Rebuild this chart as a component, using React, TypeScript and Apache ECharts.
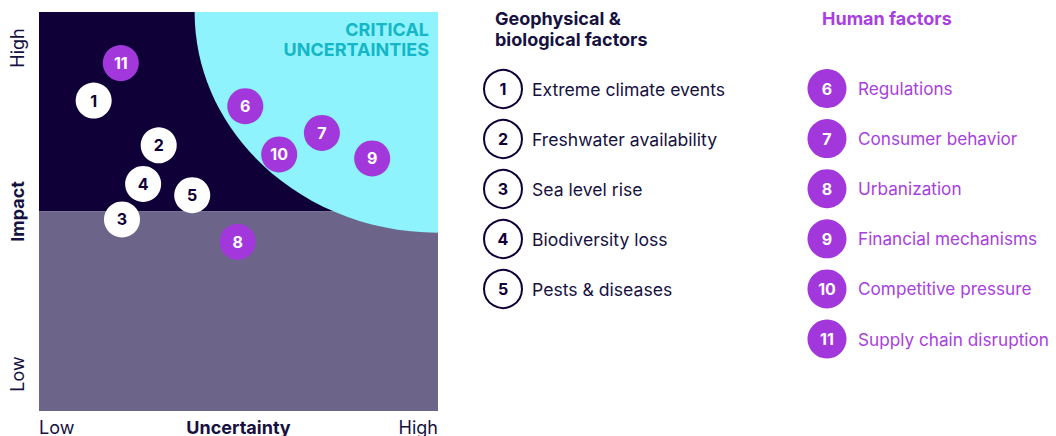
import React, { useEffect, useRef } from "react";
import * as echarts from "echarts";

// ---- data ----
const geoIds = [1, 2, 3, 4, 5];
const geoNames = [
  "Extreme climate events",
  "Freshwater availability",
  "Sea level rise",
  "Biodiversity loss",
  "Pests & diseases",
];
const geoUncertainty = [1.37, 3.0, 2.08, 2.61, 3.84];
const geoImpact = [7.78, 6.66, 4.8, 5.69, 5.41];

const humanIds = [6, 7, 8, 9, 10, 11];
const humanNames = [
  "Regulations",
  "Consumer behavior",
  "Urbanization",
  "Financial mechanisms",
  "Competitive pressure",
  "Supply chain disruption",
];
const humanUncertainty = [5.17, 7.09, 4.98, 8.35, 6.02, 2.05];
const humanImpact = [7.64, 6.97, 4.24, 6.33, 6.43, 8.72];

const axisMin = 0;
const axisMax = 10;
const impactSplit = 5;
const criticalCenter = [10, 10];
const criticalRadii = [6.1, 5.53];

const geoTitle = "Geophysical &\nbiological factors";
const humanTitle = "Human factors";
const criticalLabel = "CRITICAL\nUNCERTAINTIES";

// ---- styles ----
const FONT = "Inter, 'Noto Sans', sans-serif";
const NAVY = "#0f0037";
const GREY = "#6d6589";
const CYAN = "#8ef3fd";
const TEAL = "#14b6c7";
const PURPLE = "#a238dc";
const PURPLE_TEXT = "#a83fe0";
const TEXT = "#16113f";

export default function App() {
  const ref = useRef<HTMLDivElement>(null);

  useEffect(() => {
    if (!ref.current) return;
    const chart = echarts.init(ref.current, undefined, { renderer: "svg" });

    const legendGraphics: any[] = [];
    legendGraphics.push({
      type: "text",
      x: 495,
      y: 8,
      style: { text: geoTitle, font: `bold 18px ${FONT}`, fill: TEXT, lineHeight: 21, verticalAlign: "top" },
    });
    legendGraphics.push({
      type: "text",
      x: 822,
      y: 8,
      style: { text: humanTitle, font: `bold 18px ${FONT}`, fill: PURPLE_TEXT, lineHeight: 21, verticalAlign: "top" },
    });
    geoIds.forEach((id, i) => {
      const cy = 89 + i * 50;
      legendGraphics.push({
        type: "circle",
        shape: { cx: 503, cy, r: 19 },
        style: { fill: "#fff", stroke: NAVY, lineWidth: 2 },
      });
      legendGraphics.push({
        type: "text",
        x: 503,
        y: cy,
        style: { text: String(id), font: `bold 16px ${FONT}`, fill: NAVY, align: "center", verticalAlign: "middle" },
      });
      legendGraphics.push({
        type: "text",
        x: 532,
        y: cy,
        style: { text: geoNames[i], font: `17.6px ${FONT}`, fill: TEXT, align: "left", verticalAlign: "middle" },
      });
    });
    humanIds.forEach((id, i) => {
      const cy = 88.5 + i * 50.1;
      legendGraphics.push({
        type: "circle",
        shape: { cx: 827, cy, r: 19.5 },
        style: { fill: PURPLE },
      });
      legendGraphics.push({
        type: "text",
        x: 827,
        y: cy,
        style: { text: String(id), font: `bold 16px ${FONT}`, fill: "#fff", align: "center", verticalAlign: "middle" },
      });
      legendGraphics.push({
        type: "text",
        x: 858,
        y: cy,
        style: { text: humanNames[i], font: `17.2px ${FONT}`, fill: PURPLE_TEXT, align: "left", verticalAlign: "middle" },
      });
    });

    const option: any = {
      animation: false,
      grid: { left: 39, top: 12, width: 399, height: 399, outerBoundsMode: "none", containLabel: false },
      xAxis: {
        type: "value",
        min: axisMin,
        max: axisMax,
        interval: axisMax - axisMin,
        splitLine: { show: false },
        axisLine: { show: false },
        axisTick: { show: false },
        axisLabel: {
          margin: 7,
          fontSize: 18,
          fontFamily: FONT,
          color: TEXT,
          alignMinLabel: "left",
          alignMaxLabel: "right",
          formatter: (v: number) => (v === axisMin ? "Low" : "High"),
        },
        name: "Uncertainty",
        nameLocation: "middle",
        nameGap: 7,
        nameMoveOverlap: false,
        nameTextStyle: { fontSize: 18, fontWeight: "bold", fontFamily: FONT, color: TEXT, verticalAlign: "top" },
      },
      yAxis: {
        type: "value",
        min: axisMin,
        max: axisMax,
        interval: axisMax - axisMin,
        splitLine: { show: false },
        axisLine: { show: false },
        axisTick: { show: false },
        axisLabel: { show: false },
        name: "Impact",
        nameLocation: "middle",
        nameGap: 13,
        nameMoveOverlap: false,
        nameTextStyle: { fontSize: 18, fontWeight: "bold", fontFamily: FONT, color: TEXT },
      },
      graphic: [
        {
          type: "text",
          x: 17,
          y: 48,
          rotation: Math.PI / 2,
          style: { text: "High", font: `18px ${FONT}`, fill: TEXT, align: "center", verticalAlign: "middle" },
        },
        {
          type: "text",
          x: 17,
          y: 374,
          rotation: Math.PI / 2,
          style: { text: "Low", font: `18px ${FONT}`, fill: TEXT, align: "center", verticalAlign: "middle" },
        },
        {
          type: "text",
          x: 429,
          y: 19,
          z: 10,
          style: { text: criticalLabel, font: `bold 18px ${FONT}`, fill: TEAL, align: "right", verticalAlign: "top", lineHeight: 20 },
        },
        ...legendGraphics,
      ],
      series: [
        {
          type: "custom",
          silent: true,
          z: 0,
          data: [[0]],
          renderItem: (params: any, api: any) => {
            const tl = api.coord([axisMin, axisMax]);
            const mid = api.coord([axisMax, impactSplit]);
            const bl = api.coord([axisMin, impactSplit]);
            const br = api.coord([axisMax, axisMin]);
            const c = api.coord(criticalCenter);
            const e = api.coord([criticalCenter[0] - criticalRadii[0], criticalCenter[1] - criticalRadii[1]]);
            const cs = params.coordSys;
            return {
              type: "group",
              children: [
                {
                  type: "rect",
                  shape: { x: tl[0], y: tl[1], width: mid[0] - tl[0], height: mid[1] - tl[1] },
                  style: { fill: NAVY },
                },
                {
                  type: "rect",
                  shape: { x: bl[0], y: bl[1], width: br[0] - bl[0], height: br[1] - bl[1] },
                  style: { fill: GREY },
                },
                {
                  type: "ellipse",
                  shape: { cx: c[0], cy: c[1], rx: c[0] - e[0], ry: e[1] - c[1] },
                  style: { fill: CYAN },
                  clipPath: { type: "rect", shape: { x: cs.x, y: cs.y, width: cs.width, height: cs.height } },
                },
              ],
            };
          },
        },
        {
          type: "scatter",
          z: 5,
          symbolSize: 36,
          itemStyle: { color: "#ffffff", opacity: 1 },
          data: geoIds.map((id, i) => [geoUncertainty[i], geoImpact[i], id]),
          label: {
            show: true,
            position: "inside",
            formatter: (p: any) => String(p.value[2]),
            color: NAVY,
            fontWeight: "bold",
            fontSize: 16,
            fontFamily: FONT,
          },
        },
        {
          type: "scatter",
          z: 5,
          symbolSize: 36,
          itemStyle: { color: PURPLE, opacity: 1 },
          data: humanIds.map((id, i) => [humanUncertainty[i], humanImpact[i], id]),
          label: {
            show: true,
            position: "inside",
            formatter: (p: any) => String(p.value[2]),
            color: "#ffffff",
            fontWeight: "bold",
            fontSize: 16,
            fontFamily: FONT,
          },
        },
      ],
    };

    chart.setOption(option);
    return () => chart.dispose();
  }, []);

  return (
    <div
      ref={ref}
      style={{ position: "absolute", left: 0, top: 0, width: 1056, height: 436, background: "#fff" }}
    />
  );
}
